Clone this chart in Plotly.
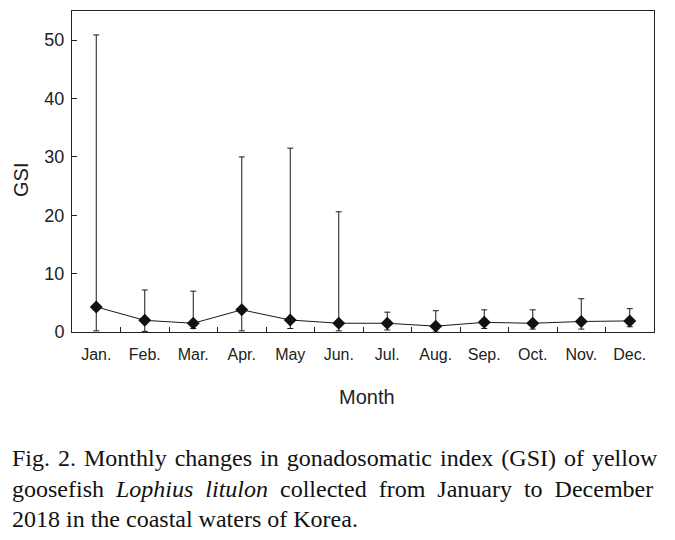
import plotly.graph_objects as go

months = ["Jan.", "Feb.", "Mar.", "Apr.", "May", "Jun.", "Jul.", "Aug.", "Sep.", "Oct.", "Nov.", "Dec."]
gsi_mean = [4.3, 2.0, 1.5, 3.8, 2.05, 1.5, 1.5, 1.0, 1.65, 1.5, 1.8, 1.9]
gsi_max = [50.9, 7.2, 7.0, 30.0, 31.5, 20.6, 3.4, 3.65, 3.8, 3.8, 5.7, 4.0]
gsi_min = [0.2, 0.1, 0.6, 0.2, 0.6, 0.2, 0.35, 0.0, 0.6, 0.5, 0.5, 0.9]

err_plus = [mx - m for mx, m in zip(gsi_max, gsi_mean)]
err_minus = [m - mn for m, mn in zip(gsi_mean, gsi_min)]

fig = go.Figure()
fig.add_trace(go.Scatter(
    x=months, y=gsi_mean, mode="lines+markers",
    line=dict(color="#1a1a1a", width=1),
    marker=dict(symbol="diamond", size=10, color="#111111"),
    error_y=dict(type="data", symmetric=False, array=err_plus, arrayminus=err_minus,
                 color="#1a1a1a", thickness=1, width=3),
    showlegend=False,
))

sans = "Liberation Sans, Arial, sans-serif"
ink = "#222222"

fig.update_layout(
    width=675, height=540,
    paper_bgcolor="white", plot_bgcolor="white",
    margin=dict(l=64, r=29, t=3, b=216),
    font=dict(family=sans, size=16, color=ink),
    xaxis=dict(
        type="category", range=[-0.5, 11.5],
        showline=True, linecolor=ink, linewidth=1, mirror=True,
        ticks="inside", ticklen=5, tickcolor=ink, tickson="boundaries",
        showgrid=False, zeroline=False,
        tickfont=dict(family=sans, size=16, color=ink), ticklabelstandoff=8,
    ),
    yaxis=dict(
        range=[0, 55], tickvals=[0, 10, 20, 30, 40, 50],
        showline=True, linecolor=ink, linewidth=1, mirror=True,
        ticks="inside", ticklen=5, tickcolor=ink,
        showgrid=False, zeroline=False,
        tickfont=dict(family=sans, size=18, color=ink), ticklabelstandoff=3,
    ),
)

# axis titles (page coords converted to paper coords of plot area 72..654 x 11..332)
def px(x):
    return (x - 72) / 582

def py(y):
    return (332 - y) / 321

fig.add_annotation(text="Month", xref="paper", yref="paper", x=px(367), y=py(397),
                   xanchor="center", yanchor="middle", showarrow=False,
                   font=dict(family=sans, size=20, color=ink))
fig.add_annotation(text="GSI", xref="paper", yref="paper", x=px(21), y=py(180),
                   xanchor="center", yanchor="middle", showarrow=False, textangle=-90,
                   font=dict(family=sans, size=20, color=ink))

S = "\u00a0"
H = "\u200a"
caption_lines = [
    ("Fig. 2. Monthly changes in gonadosomatic index (GSI) of yellow", " " + H),
    ("goosefish <i>Lophius</i> <i>litulon</i> collected from January to December", " " + S),
    ("2018 in the coastal waters of Korea.", " "),
]
caption_y = [458, 489, 519]
for (txt, gap), yy in zip(caption_lines, caption_y):
    fig.add_annotation(
        text=txt.replace(" ", gap), xref="paper", yref="paper",
        x=px(10), y=py(yy),
        xanchor="left", yanchor="middle", showarrow=False,
        font=dict(family="Liberation Serif, Times New Roman, serif", size=24, color="#111111"),
    )

fig.write_html("out.html")
